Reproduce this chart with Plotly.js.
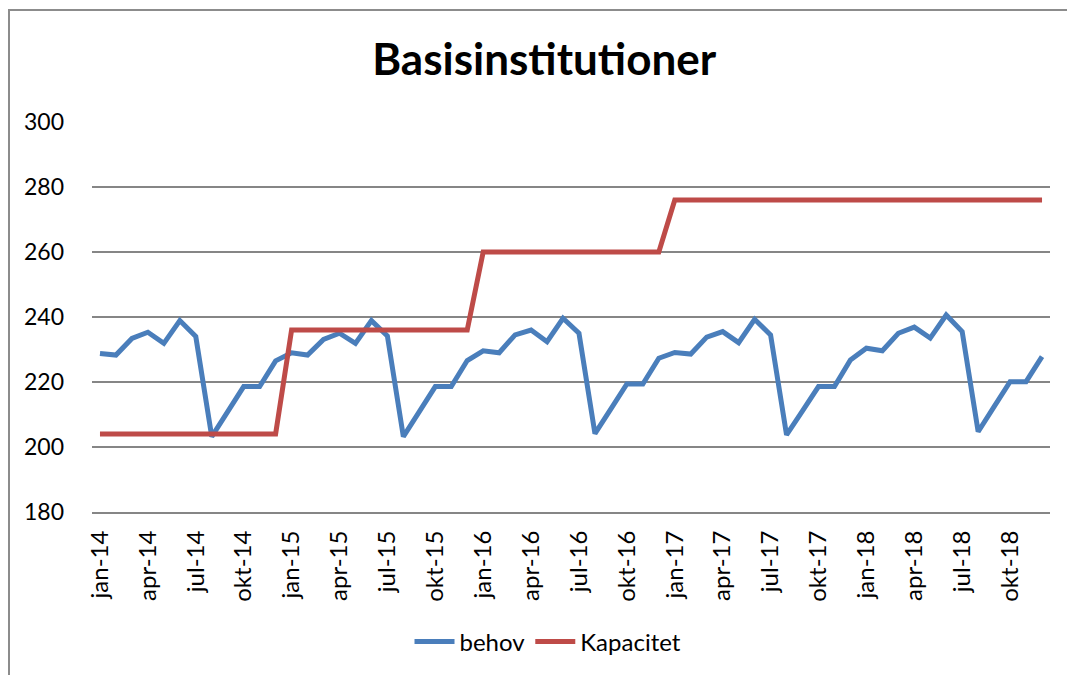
<!DOCTYPE html>
<html>
<head>
<meta charset="utf-8">
<script src="https://cdn.plot.ly/plotly-3.0.1.min.js"></script>
<style>
  html, body { margin: 0; background: #fff; overflow: hidden; }
</style>
</head>
<body>
<div id="chart" style="width:1067px;height:675px;"></div>
<script>
// months jan-14 .. dec-18
const monthNames = ['jan', 'feb', 'mar', 'apr', 'maj', 'jun', 'jul', 'aug', 'sep', 'okt', 'nov', 'dec'];
const years = ['14', '15', '16', '17', '18'];
const months = [];
years.forEach(y => monthNames.forEach(m => months.push(m + '-' + y)));

// behov
const behov = [
  228.8, 228.3, 233.4, 235.3, 231.9, 238.9, 234.0, 203.2, 210.9, 218.6, 218.6, 226.5,
  229.0, 228.3, 233.1, 235.0, 231.9, 238.9, 234.2, 203.2, 210.9, 218.6, 218.6, 226.6,
  229.6, 229.0, 234.5, 236.0, 232.4, 239.6, 235.0, 204.1, 211.7, 219.4, 219.4, 227.3,
  229.1, 228.6, 233.8, 235.5, 232.1, 239.3, 234.5, 203.7, 211.1, 218.6, 218.6, 226.8,
  230.4, 229.6, 235.0, 236.9, 233.5, 240.6, 235.5, 204.7, 212.4, 220.1, 220.1, 227.8
];

// Kapacitet per year
const kapacitetPerYear = [204, 236, 260, 276, 276];
const kapacitet = [];
kapacitetPerYear.forEach(v => { for (let i = 0; i < 12; i++) kapacitet.push(v); });

// every third month labelled
const tickMonths = months.filter((m, i) => i % 3 === 0);

const font = 'Lato, "Open Sans", sans-serif';

// chart frame (left and top edge only, like the original)
const W = 1067, H = 675, L = 92, R = 17, T = 122, B = 163;
const px = x => (x - L) / (W - L - R);
const py = y => (H - B - y) / (H - T - B);
const frameLine = { color: '#8c8c8c', width: 2 };

const data = [
  {
    x: months, y: behov, name: 'behov', type: 'scatter', mode: 'lines',
    line: { color: '#4a7ebb', width: 5 }
  },
  {
    x: months, y: kapacitet, name: 'Kapacitet', type: 'scatter', mode: 'lines',
    line: { color: '#be4b48', width: 5 }
  }
];

const layout = {
  width: W,
  height: H,
  margin: { l: L, r: R, t: T, b: B },
  paper_bgcolor: '#fff',
  plot_bgcolor: '#fff',
  font: { family: font, color: '#000', size: 24 },
  title: {
    text: '<b>Basisinstitutioner</b>',
    font: { family: font, size: 44, color: '#000' },
    x: 0.51, xanchor: 'center',
    yref: 'container', y: 1 - 60 / 675, yanchor: 'middle'
  },
  xaxis: {
    type: 'category',
    categoryorder: 'array',
    categoryarray: months,
    tickvals: tickMonths,
    ticktext: tickMonths,
    tickangle: -90,
    ticks: '',
    ticklabelstandoff: 7,
    showgrid: false,
    showline: true,
    linecolor: '#868686',
    linewidth: 2,
    tickfont: { size: 24 },
    range: [-0.5, months.length - 0.5]
  },
  yaxis: {
    range: [180, 300],
    dtick: 20,
    showgrid: true,
    gridcolor: '#868686',
    gridwidth: 1.5,
    zeroline: false,
    showline: false,
    ticks: '',
    ticklabelstandoff: 27,
    tickfont: { size: 23 }
  },
  shapes: [
    { type: 'line', xref: 'paper', yref: 'paper', x0: px(9), x1: px(9), y0: py(10), y1: py(H + 5), line: frameLine, layer: 'above' },
    { type: 'line', xref: 'paper', yref: 'paper', x0: px(8), x1: px(W + 5), y0: py(10), y1: py(10), line: frameLine, layer: 'above' }
  ],
  showlegend: true,
  legend: {
    orientation: 'h',
    xref: 'paper', x: 0.476, xanchor: 'center',
    yref: 'container', y: 1 - 642 / 675, yanchor: 'middle',
    font: { size: 24 },
    itemwidth: 40
  }
};

Plotly.newPlot('chart', data, layout, { displayModeBar: false, staticPlot: true });
</script>
</body>
</html>
